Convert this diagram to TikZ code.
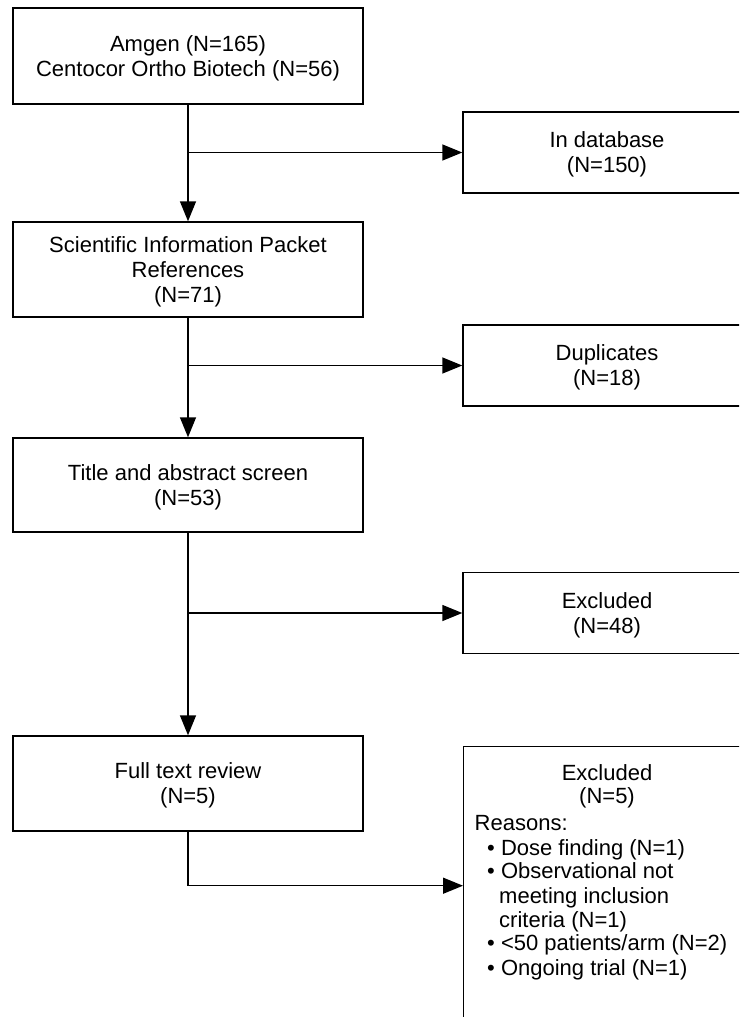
\documentclass[tikz,border=0pt]{standalone}
\usepackage{fontspec}
\setmainfont{Liberation Sans}
\usetikzlibrary{arrows.meta}

\tikzset{
  stagebox/.style={draw=black, line width=1.4pt, minimum width=350pt, align=center, text depth=-3pt, font=\fontsize{22}{25}\selectfont},
  outbox/.style={draw=black, line width=1.4pt, minimum width=288pt, minimum height=81pt, align=center, text depth=-3pt, font=\fontsize{22}{25}\selectfont},
  lineitem/.style={inner sep=0pt, anchor=base west, font=\fontsize{22}{24}\selectfont},
  flow/.style={line width=1.4pt, -{Triangle[length=20pt,width=16pt]}}
}

\begin{document}
\begin{tikzpicture}[x=1pt,y=-1pt]
\useasboundingbox (0,0) rectangle (739,1017);
\clip (0,0) rectangle (739,1017);

\node[stagebox, minimum height=96pt] (sources) at (188,56) {Amgen (N=165)\\Centocor Ortho Biotech (N=56)};
\node[stagebox, minimum height=95pt] (packet) at (188,269.5) {Scientific Information Packet\\References\\(N=71)};
\node[stagebox, minimum height=94pt] (screen) at (188,485) {Title and abstract screen\\(N=53)};
\node[stagebox, minimum height=95pt] (fulltext) at (188,783.5) {Full text review\\(N=5)};

\node[outbox] (indb) at (607,152.5) {In database\\(N=150)};
\node[outbox] (dupl) at (607,365.5) {Duplicates\\(N=18)};
\node[outbox] (excla) at (607,613) {Excluded\\(N=48)};
\node[draw=black, line width=1.4pt, minimum width=288pt, minimum height=278pt, anchor=north west] (exclb) at (463,746) {};

\node[inner sep=0pt, anchor=base, font=\fontsize{22}{24}\selectfont] (exhead) at (607,780) {Excluded};
\node[inner sep=0pt, anchor=base, font=\fontsize{22}{24}\selectfont] (exnum) at (607,803) {(N=5)};
\node[lineitem] (reasons) at (474.5,830) {Reasons:};
\node[lineitem] (rdose) at (487,855) {\textbullet{} Dose finding (N=1)};
\node[lineitem] (robsa) at (487,878) {\textbullet{} Observational not};
\node[lineitem] (robsb) at (499,903) {meeting inclusion};
\node[lineitem] (robsc) at (499,927) {criteria (N=1)};
\node[lineitem] (rsmall) at (487,950) {\textbullet{} <50 patients/arm (N=2)};
\node[lineitem] (rongo) at (487,975) {\textbullet{} Ongoing trial (N=1)};

\draw[flow] (sources) -- (packet);
\draw[flow] (packet) -- (screen);
\draw[flow] (screen) -- (fulltext);
\draw[flow] (sources.south |- indb.west) -- (indb.west);
\draw[flow] (packet.south |- dupl.west) -- (dupl.west);
\draw[flow] (screen.south |- excla.west) -- (excla.west);
\draw[flow] (fulltext.south) |- (exclb.west);
\end{tikzpicture}
\end{document}
